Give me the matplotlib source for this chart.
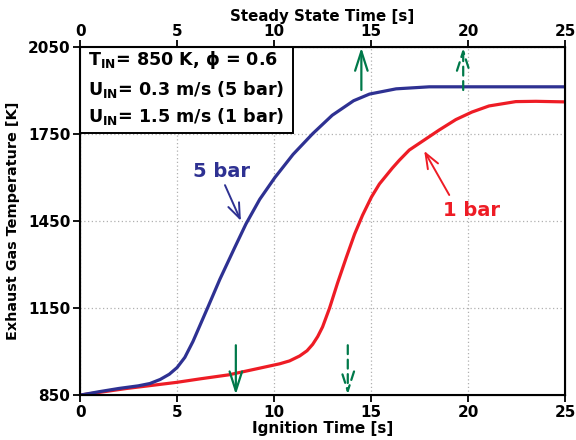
import matplotlib
matplotlib.use('Agg')
import matplotlib.pyplot as plt
from matplotlib.patches import Rectangle

# ignition time [s] and exhaust gas temperature [K]
t_5bar = [0, 1, 2, 3, 3.6, 4.13, 4.6, 5.0, 5.4, 5.82, 6.34, 6.6, 7.21, 7.98, 8.55, 9.26,
          10.04, 10.98, 12.0, 13.0, 14.1, 14.92, 16.29, 18, 20, 25]
T_5bar = [850, 862, 873, 882, 890, 904, 922, 945, 980, 1035, 1115, 1155, 1250, 1360, 1440, 1525,
          1600, 1680, 1752, 1815, 1865, 1888, 1906, 1913, 1913, 1913]

t_1bar = [0, 2.41, 4.98, 6.18, 7.67, 9.26, 10.29, 10.8, 11.32, 11.7, 11.99, 12.25, 12.5, 12.86,
          13.27, 13.73, 14.15, 14.56, 15.02, 15.43, 16.1, 16.46, 16.97, 18.51, 19.37, 20.2,
          21.08, 22.46, 23.5, 25]
T_1bar = [850, 873, 894, 906, 920, 943, 958, 968, 985, 1003, 1025, 1052, 1085, 1150,
          1236, 1326, 1405, 1470, 1533, 1578, 1633, 1660, 1695, 1764, 1800, 1826,
          1847, 1862, 1863, 1861]

# green arrow positions [s]
ign_solid, ign_dashed = 8.03, 13.8
ss_solid, ss_dashed = 14.5, 19.75

box_lines = ['$\\mathbf{T_{IN}}$= 850 K, $\\mathbf{\\phi}$ = 0.6',
             '$\\mathbf{U_{IN}}$= 0.3 m/s (5 bar)',
             '$\\mathbf{U_{IN}}$= 1.5 m/s (1 bar)']

blue = '#2e3192'
red = '#ee1c25'
green = '#00794a'

plt.rcParams['font.family'] = ['DejaVu Sans']
plt.rcParams['font.weight'] = 'bold'
plt.rcParams['mathtext.fontset'] = 'dejavusans'

fig, ax = plt.subplots(figsize=(5.76, 4.4), dpi=100)
fig.subplots_adjust(left=0.139, right=0.981, bottom=0.102, top=0.893)

ax.plot(t_1bar, T_1bar, color=red, lw=2.3, solid_joinstyle='round')
ax.plot(t_5bar, T_5bar, color=blue, lw=2.3, solid_joinstyle='round')

ax.set_xlim(0, 25)
ax.set_ylim(850, 2050)
ax.set_xticks([0, 5, 10, 15, 20, 25])
ax.set_yticks([850, 1150, 1450, 1750, 2050])
ax.grid(True, color='#b0b0b0', linestyle=(0, (1, 2)), lw=0.9)
for s in ax.spines.values():
    s.set_linewidth(1.5)
ax.tick_params(labelsize=11, width=1.3, length=5, pad=2)
ax.set_xlabel('Ignition Time [s]', fontsize=11, fontweight='bold', labelpad=1)
ax.set_ylabel('Exhaust Gas Temperature [K]', fontsize=10.4, fontweight='bold')
ax.yaxis.set_label_coords(-0.124, 0.5)

ax2 = ax.twiny()
ax2.set_xlim(0, 25)
ax2.set_xticks([0, 5, 10, 15, 20, 25])
ax2.tick_params(labelsize=11, width=1.3, length=5, pad=1)
ax2.set_xlabel('Steady State Time [s]', fontsize=10.8, fontweight='bold', labelpad=2)

# green arrows
arr = dict(arrowstyle='->,head_length=1.4,head_width=0.45', color=green, lw=1.6,
           mutation_scale=10, shrinkA=0, shrinkB=0)
ax.annotate('', xy=(ign_solid, 852), xytext=(ign_solid, 1022), arrowprops=arr)
ax.annotate('', xy=(ign_dashed, 852), xytext=(ign_dashed, 1022),
            arrowprops=dict(arr, linestyle=(0, (4, 2.5))))
ax.annotate('', xy=(ss_solid, 2048), xytext=(ss_solid, 1902), arrowprops=arr)
ax.annotate('', xy=(ss_dashed, 2048), xytext=(ss_dashed, 1902),
            arrowprops=dict(arr, linestyle=(0, (4, 2.5))))

# curve labels
lab_arr = dict(arrowstyle='->,head_length=0.9,head_width=0.35', lw=1.4,
               mutation_scale=12, shrinkA=0, shrinkB=0)
ax.text(7.27, 1621, '5 bar', color=blue, fontsize=14, fontweight='bold', ha='center', va='center')
ax.annotate('', xy=(8.29, 1451), xytext=(7.47, 1574), arrowprops=dict(lab_arr, color=blue))
ax.text(20.17, 1488, '1 bar', color=red, fontsize=14, fontweight='bold', ha='center', va='center')
ax.annotate('', xy=(17.74, 1692), xytext=(19.03, 1540), arrowprops=dict(lab_arr, color=red))

# condition box
ax.add_patch(Rectangle((0, 0.753), 0.439, 0.247, transform=ax.transAxes,
                       fc='white', ec='black', lw=1.4, zorder=5))
for yb, line in zip([0.948, 0.862, 0.784], box_lines):
    ax.text(0.016, yb, line, transform=ax.transAxes, fontsize=12.6, fontweight='bold',
            va='baseline', ha='left', zorder=6)

fig.savefig('out.png', dpi=100)
